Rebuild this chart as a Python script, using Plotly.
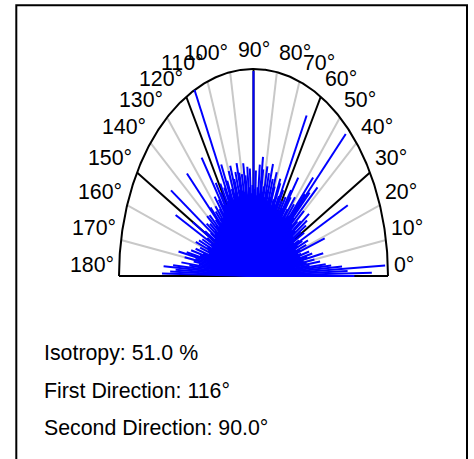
import numpy as np
import plotly.graph_objects as go

# Orientation histogram: one radial line per degree, length normalised to the strongest direction
angles_deg = list(range(180))
lengths = [
    0.75, 0.88, 0.70, 0.98, 0.66, 0.58, 0.54, 0.42, 0.50, 0.40,
    0.46, 0.38, 0.53, 0.41, 0.45, 0.36, 0.43, 0.37, 0.35, 0.56,
    0.37, 0.42, 0.34, 0.44, 0.36, 0.40, 0.78, 0.38, 0.34, 0.43,
    0.36, 0.41, 0.46, 0.35, 0.48, 0.38, 0.51, 0.44, 0.36, 0.42,
    0.49, 0.38, 0.64, 0.41, 0.58, 0.97, 0.55, 0.65, 0.39, 0.46,
    0.37, 0.49, 0.41, 0.36, 0.47, 0.58, 0.50, 0.39, 0.45, 0.37,
    0.42, 0.36, 0.47, 0.87, 0.43, 0.38, 0.49, 0.51, 0.40, 0.36,
    0.46, 0.53, 0.40, 0.49, 0.38, 0.56, 0.43, 0.51, 0.39, 0.54,
    0.44, 0.41, 0.52, 0.58, 0.40, 0.54, 0.43, 0.39, 0.51, 0.42,
    0.99, 0.44, 0.40, 0.52, 0.43, 0.53, 0.39, 0.49, 0.55, 0.41,
    0.50, 0.42, 0.51, 0.56, 0.43, 0.52, 0.40, 0.49, 0.56, 0.42,
    0.54, 0.45, 0.40, 0.50, 0.59, 0.43, 1.00, 0.48, 0.41, 0.51,
    0.40, 0.47, 0.53, 0.41, 0.69, 0.45, 0.38, 0.48, 0.41, 0.36,
    0.44, 0.37, 0.42, 0.35, 0.46, 0.70, 0.39, 0.35, 0.44, 0.37,
    0.45, 0.34, 0.41, 0.36, 0.43, 0.35, 0.74, 0.38, 0.34, 0.42,
    0.52, 0.33, 0.39, 0.65, 0.35, 0.42, 0.34, 0.44, 0.37, 0.46,
    0.36, 0.42, 0.35, 0.45, 0.39, 0.48, 0.41, 0.51, 0.57, 0.44,
    0.52, 0.45, 0.41, 0.54, 0.48, 0.60, 0.67, 0.58, 0.62, 0.68,
]

tick_angles = list(range(0, 181, 10))
tick_labels = [f"{a}°" for a in tick_angles]
major_angles = [30, 60, 90, 120, 150]

summary_lines = [
    "Isotropy: 51.0 %",
    "First Direction: 116°",
    "Second Direction: 90.0°",
]

FONT = dict(family="Arial, 'Liberation Sans', sans-serif", size=21.33, color="black")

W, H = 474, 459
CX, CY = 253.5, 276.0      # pixel position of the pole
RX, RY = 134.5, 207.0      # pixel half-axes of the elliptical frame


def radial_segments(theta_deg, radii):
    xs, ys = [], []
    for t, r in zip(theta_deg, radii):
        a = np.deg2rad(t)
        xs += [0.0, r * np.cos(a), None]
        ys += [0.0, r * np.sin(a), None]
    return xs, ys


fig = go.Figure()

# Spokes every 10 degrees, darker every 30 degrees
minor = [a for a in tick_angles[1:-1] if a not in major_angles]
gx, gy = radial_segments(minor, [1.0] * len(minor))
fig.add_trace(go.Scatter(x=gx, y=gy, mode="lines",
                         line=dict(color="#c8c8c8", width=2), hoverinfo="skip"))
bx, by = radial_segments(major_angles, [1.0] * len(major_angles))
fig.add_trace(go.Scatter(x=bx, y=by, mode="lines",
                         line=dict(color="black", width=2), hoverinfo="skip"))

# Outer arc and base line
arc = np.deg2rad(np.linspace(0, 180, 361))
fig.add_trace(go.Scatter(x=list(np.cos(arc)) + [None, -1, 1],
                         y=list(np.sin(arc)) + [None, 0, 0],
                         mode="lines", line=dict(color="black", width=2),
                         hoverinfo="skip"))

# Direction histogram
hx, hy = radial_segments(angles_deg, lengths)
fig.add_trace(go.Scatter(x=hx, y=hy, mode="lines",
                         line=dict(color="#0000ff", width=2), hoverinfo="skip"))

annotations = []
for a, lab in zip(tick_angles, tick_labels):
    t = np.deg2rad(a)
    lx = (138 / RX) * np.cos(t)
    ly = 0.053 + 1.0386 * np.sin(t)
    if a < 90:
        xa = "left"
    elif a > 90:
        xa = "right"
    else:
        xa = "center"
    annotations.append(dict(x=lx, y=ly, xref="x", yref="y", text=lab,
                            showarrow=False, xanchor=xa, yanchor="middle",
                            font=FONT))

for i, line in enumerate(summary_lines):
    py = 353 + i * 37.5
    annotations.append(dict(x=42 / W, y=1 - py / H, xref="paper", yref="paper",
                            text=line, showarrow=False, xanchor="left",
                            yanchor="middle", font=FONT))

fig.update_layout(
    width=W, height=H,
    margin=dict(l=0, r=0, t=0, b=0),
    paper_bgcolor="white", plot_bgcolor="white",
    showlegend=False,
    xaxis=dict(range=[-CX / RX, (W - CX) / RX], visible=False, fixedrange=True),
    yaxis=dict(range=[(CY - H) / RY, CY / RY], visible=False, fixedrange=True),
    annotations=annotations,
    shapes=[dict(type="rect", xref="paper", yref="paper",
                 x0=16.3 / W, x1=467 / W, y0=-0.05, y1=1 - 5.3 / H,
                 line=dict(color="black", width=2), fillcolor="rgba(0,0,0,0)")],
)

fig.write_html("out.html")
